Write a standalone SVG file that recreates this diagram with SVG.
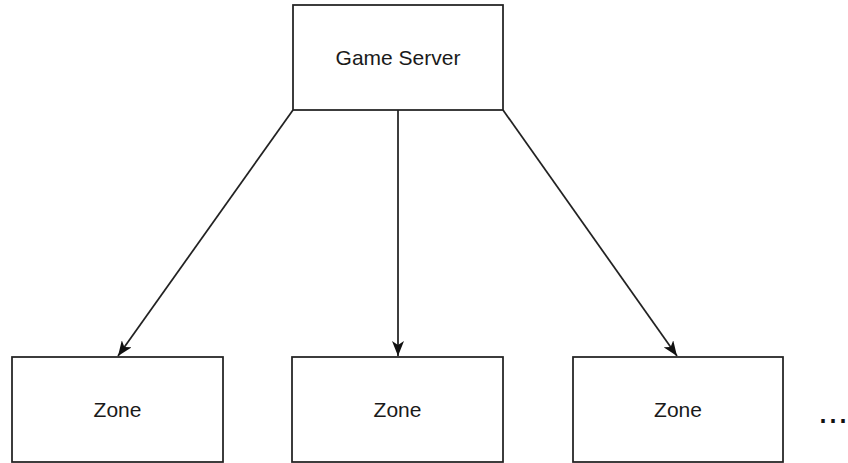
<svg xmlns="http://www.w3.org/2000/svg" width="848" height="463" viewBox="0 0 848 463">
  <defs>
    <style>
      .box { fill: #ffffff; stroke: #222222; stroke-width: 1.75; }
      .lbl { font-family: "Liberation Sans", Arial, sans-serif; font-size: 21px; fill: #1a1a1a; text-anchor: middle; }
      .edge { fill: none; stroke: #222222; stroke-width: 1.75; }
    </style>
    <marker id="arrow" markerUnits="userSpaceOnUse" markerWidth="16" markerHeight="12" viewBox="0 0 16 12" refX="15" refY="6" orient="auto">
      <path d="M0,0 L15,6 L0,12 L4,6 Z" fill="#111111"/>
    </marker>
  </defs>
  <rect width="848" height="463" fill="#ffffff"/>
  <g id="connectors">
    <line class="edge" x1="293" y1="110" x2="118" y2="356" marker-end="url(#arrow)"/>
    <line class="edge" x1="398" y1="110" x2="398" y2="356" marker-end="url(#arrow)"/>
    <line class="edge" x1="503" y1="110" x2="677" y2="356" marker-end="url(#arrow)"/>
  </g>
  <g id="game-server">
    <rect class="box" x="293" y="5" width="210" height="105"/>
    <text class="lbl" x="398" y="65">Game Server</text>
  </g>
  <g id="zone-1">
    <rect class="box" x="12" y="357" width="211" height="105"/>
    <text class="lbl" x="117.5" y="417">Zone</text>
  </g>
  <g id="zone-2">
    <rect class="box" x="292" y="357" width="211" height="105"/>
    <text class="lbl" x="397.5" y="417">Zone</text>
  </g>
  <g id="zone-3">
    <rect class="box" x="573" y="357" width="210" height="105"/>
    <text class="lbl" x="678" y="417">Zone</text>
  </g>
  <g id="ellipsis">
    <text x="848" y="422.5" text-anchor="end" style="font-family: 'Liberation Sans', Arial, sans-serif; font-size: 36px; fill: #111111;">...</text>
  </g>
</svg>
